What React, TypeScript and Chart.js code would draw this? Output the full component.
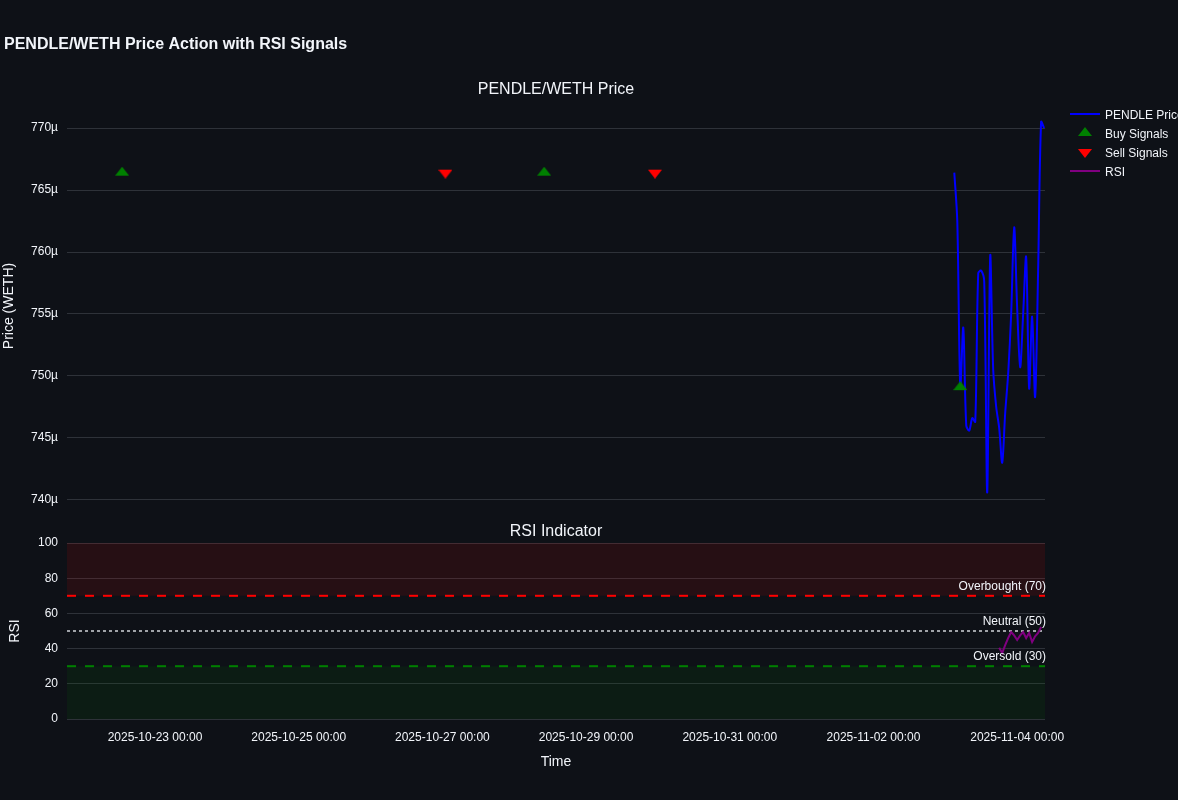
import React, { useEffect, useRef } from "react";
import { Chart, registerables } from "chart.js";

Chart.register(...registerables);

// ---------- data (price values in µWETH) ----------
const PRICE_TIMES = [
  "2025-11-03 03:00", "2025-11-03 04:00", "2025-11-03 05:00", "2025-11-03 06:00",
  "2025-11-03 07:00", "2025-11-03 08:00", "2025-11-03 09:00", "2025-11-03 10:00",
  "2025-11-03 11:00", "2025-11-03 12:00", "2025-11-03 13:00", "2025-11-03 14:00",
  "2025-11-03 15:00", "2025-11-03 16:00", "2025-11-03 17:00", "2025-11-03 18:00",
  "2025-11-03 19:00", "2025-11-03 20:00", "2025-11-03 21:00", "2025-11-03 22:00",
  "2025-11-03 23:00", "2025-11-04 00:00", "2025-11-04 01:00", "2025-11-04 02:00",
  "2025-11-04 03:00", "2025-11-04 04:00", "2025-11-04 05:00", "2025-11-04 06:00",
  "2025-11-04 07:00", "2025-11-04 08:00", "2025-11-04 09:00",
];
const PRICE_VALUES = [
  766.4, 762.5, 749.1, 753.9,
  746.0, 745.6, 746.6, 746.3,
  758.3, 758.5, 757.6, 740.6,
  759.7, 750.5, 747.5, 745.8,
  743.0, 747.0, 750.2, 755.0,
  762.0, 755.5, 750.7, 755.0,
  759.6, 749.0, 754.8, 748.3,
  758.5, 770.5, 770.0,
];

const RSI_TIMES = [
  "2025-11-03 18:00", "2025-11-03 19:00", "2025-11-03 20:00", "2025-11-03 21:00",
  "2025-11-03 22:00", "2025-11-03 23:00", "2025-11-04 00:00", "2025-11-04 01:00",
  "2025-11-04 02:00", "2025-11-04 03:00", "2025-11-04 04:00", "2025-11-04 05:00",
  "2025-11-04 06:00", "2025-11-04 07:00", "2025-11-04 08:00",
];
const RSI_VALUES = [
  40.5, 37.5, 42.0, 46.0,
  49.4, 47.5, 44.9, 47.5,
  49.4, 46.0, 48.9, 43.8,
  47.0, 48.9, 52.3,
];

const BUY_TIMES = ["2025-10-22 13:00", "2025-10-28 10:00", "2025-11-03 05:00"];
const BUY_VALUES = [766.4, 766.4, 749.1];
const SELL_TIMES = ["2025-10-27 01:00", "2025-10-29 23:00"];
const SELL_VALUES = [766.4, 766.4];

const X_TICK_LABELS = [
  "2025-10-23 00:00", "2025-10-25 00:00", "2025-10-27 00:00", "2025-10-29 00:00",
  "2025-10-31 00:00", "2025-11-02 00:00", "2025-11-04 00:00",
];
const X_RANGE = ["2025-10-21 18:36", "2025-11-04 09:18"];
const PRICE_TICKS = [740, 745, 750, 755, 760, 765, 770];
const PRICE_RANGE = [739.11, 772.18];
const RSI_TICKS = [0, 20, 40, 60, 80, 100];
const RSI_RANGE = [0, 100];
const RSI_LEVELS = [70, 50, 30];
const RSI_LEVEL_LABELS = ["Overbought (70)", "Neutral (50)", "Oversold (30)"];

const LEGEND_LABELS = ["PENDLE Price", "Buy Signals", "Sell Signals", "RSI"];

// ---------- style ----------
const BG = "#0e1117";
const GRID = "#2e3239";
const TEXT = "#f2f5fa";
const TICK = "#f2f5fa";
const FONT = "'Liberation Sans', Arial, sans-serif";
const BLUE = "#0000ff";
const PURPLE = "#800080";
const GREEN = "#008000";
const RED = "#ff0000";

function toMs(s: string): number {
  const [d, t] = s.split(" ");
  const [Y, M, D] = d.split("-").map(Number);
  const [h, m] = t.split(":").map(Number);
  return Date.UTC(Y, M - 1, D, h, m);
}

function makeTriangle(color: string, up: boolean): HTMLCanvasElement {
  const c = document.createElement("canvas");
  c.width = 14;
  c.height = 12;
  const g = c.getContext("2d")!;
  g.fillStyle = color;
  g.beginPath();
  if (up) {
    g.moveTo(0, 9.1);
    g.lineTo(14, 9.1);
    g.lineTo(7, 0);
  } else {
    g.moveTo(0, 2.9);
    g.lineTo(14, 2.9);
    g.lineTo(7, 12);
  }
  g.closePath();
  g.fill();
  return c;
}

export default function App() {
  const priceRef = useRef<HTMLCanvasElement>(null);
  const rsiRef = useRef<HTMLCanvasElement>(null);

  useEffect(() => {
    const upTri = makeTriangle(GREEN, true);
    const downTri = makeTriangle(RED, false);
    const xMin = toMs(X_RANGE[0]);
    const xMax = toMs(X_RANGE[1]);
    const xTicks = X_TICK_LABELS.map(toMs);

    const pricePlugin = {
      id: "priceTexts",
      afterDraw(chart: any) {
        const ctx = chart.ctx as CanvasRenderingContext2D;
        const area = chart.chartArea;
        ctx.save();
        ctx.fillStyle = TEXT;
        ctx.textBaseline = "alphabetic";
        ctx.font = `bold 16px ${FONT}`;
        ctx.textAlign = "left";
        ctx.fillText("PENDLE/WETH Price Action with RSI Signals", 4, 49);
        ctx.font = `16px ${FONT}`;
        ctx.textAlign = "center";
        ctx.fillText("PENDLE/WETH Price", (area.left + area.right) / 2, 94);

        // legend
        const lx = 1070;
        const rows = [114, 133, 152, 171];
        ctx.lineWidth = 2;
        ctx.strokeStyle = BLUE;
        ctx.beginPath();
        ctx.moveTo(lx, rows[0]);
        ctx.lineTo(lx + 30, rows[0]);
        ctx.stroke();
        ctx.drawImage(upTri, lx + 15 - 7, rows[1] - 6);
        ctx.drawImage(downTri, lx + 15 - 7, rows[2] - 6);
        ctx.strokeStyle = PURPLE;
        ctx.beginPath();
        ctx.moveTo(lx, rows[3]);
        ctx.lineTo(lx + 30, rows[3]);
        ctx.stroke();
        ctx.font = `12px ${FONT}`;
        ctx.textAlign = "left";
        ctx.fillStyle = TEXT;
        LEGEND_LABELS.forEach((lab, i) => ctx.fillText(lab, lx + 35, rows[i] + 5));
        ctx.restore();
      },
    };

    const rsiPlugin = {
      id: "rsiTexts",
      afterDraw(chart: any) {
        const ctx = chart.ctx as CanvasRenderingContext2D;
        const area = chart.chartArea;
        const y = chart.scales.y;
        ctx.save();
        ctx.fillStyle = TEXT;
        ctx.textBaseline = "alphabetic";
        ctx.font = `16px ${FONT}`;
        ctx.textAlign = "center";
        ctx.fillText("RSI Indicator", (area.left + area.right) / 2, area.top - 7);
        ctx.font = `12px ${FONT}`;
        ctx.textAlign = "right";
        RSI_LEVELS.forEach((lv, i) => {
          ctx.fillText(RSI_LEVEL_LABELS[i], area.right + 1, y.getPixelForValue(lv) - 6);
        });
        ctx.restore();
      },
    };

    const priceChart = new Chart(priceRef.current!, {
      type: "line",
      data: {
        datasets: [
          {
            label: "Buy Signals",
            data: BUY_TIMES.map((t, i) => ({ x: toMs(t), y: BUY_VALUES[i] })),
            showLine: false,
            pointStyle: upTri as any,
            pointRadius: 7,
            order: 0,
          },
          {
            label: "Sell Signals",
            data: SELL_TIMES.map((t, i) => ({ x: toMs(t), y: SELL_VALUES[i] })),
            showLine: false,
            pointStyle: downTri as any,
            pointRadius: 7,
            order: 0,
          },
          {
            label: "PENDLE Price",
            data: PRICE_TIMES.map((t, i) => ({ x: toMs(t), y: PRICE_VALUES[i] })),
            borderColor: BLUE,
            borderWidth: 2,
            pointRadius: 0,
            tension: 0.3,
            fill: false,
            order: 1,
          },
        ],
      },
      options: {
        animation: false,
        responsive: false,
        maintainAspectRatio: false,
        events: [],
        layout: { padding: { top: 101, bottom: 289, left: 0, right: 133 } },
        plugins: {
          legend: { display: false },
          title: { display: false },
          tooltip: { enabled: false },
        },
        scales: {
          x: { type: "linear", display: false, min: xMin, max: xMax },
          y: {
            type: "linear",
            min: PRICE_RANGE[0],
            max: PRICE_RANGE[1],
            afterFit: (s: any) => {
              s.width = 67;
            },
            afterBuildTicks: (s: any) => {
              s.ticks = PRICE_TICKS.map((v) => ({ value: v }));
            },
            grid: { color: GRID, drawTicks: false, lineWidth: 1 },
            border: { display: false },
            ticks: {
              padding: 9,
              color: TICK,
              font: { family: FONT, size: 12 },
              callback: (v: any) => `${v}µ`,
            },
            title: {
              display: true,
              text: "Price (WETH)",
              color: TEXT,
              font: { family: FONT, size: 14 },
              padding: { top: 1, bottom: 0 },
            },
          },
        },
      } as any,
      plugins: [pricePlugin],
    });

    const levelColors = [RED, "#a0a3a8", GREEN];
    const levelDash = [[9, 9], [3, 3], [9, 9]];
    const levelFill: any[] = ["end", false, "start"];
    const levelBg = ["rgba(255,0,0,0.1)", "rgba(0,0,0,0)", "rgba(0,128,0,0.1)"];

    const rsiChart = new Chart(rsiRef.current!, {
      type: "line",
      data: {
        datasets: [
          {
            label: "RSI",
            data: RSI_TIMES.map((t, i) => ({ x: toMs(t), y: RSI_VALUES[i] })),
            borderColor: PURPLE,
            borderWidth: 2,
            pointRadius: 0,
            tension: 0,
            fill: false,
            order: 0,
          },
          ...RSI_LEVELS.map((lv, i) => ({
            label: RSI_LEVEL_LABELS[i],
            data: [
              { x: xMin, y: lv },
              { x: xMax, y: lv },
            ],
            borderColor: levelColors[i],
            borderDash: levelDash[i],
            borderWidth: 2,
            pointRadius: 0,
            fill: levelFill[i],
            backgroundColor: levelBg[i],
            order: 1,
          })),
        ],
      },
      options: {
        animation: false,
        responsive: false,
        maintainAspectRatio: false,
        events: [],
        layout: { padding: { top: 543, bottom: 0, left: 0, right: 133 } },
        plugins: {
          legend: { display: false },
          title: { display: false },
          tooltip: { enabled: false },
        },
        scales: {
          x: {
            type: "linear",
            min: xMin,
            max: xMax,
            afterFit: (s: any) => {
              s.height = 81;
            },
            afterBuildTicks: (s: any) => {
              s.ticks = xTicks.map((v) => ({ value: v }));
            },
            grid: { display: false, drawTicks: false },
            border: { display: false },
            ticks: {
              padding: 11,
              autoSkip: false,
              maxRotation: 0,
              color: TICK,
              font: { family: FONT, size: 12 },
              callback: (_v: any, i: number) => X_TICK_LABELS[i],
            },
            title: {
              display: true,
              text: "Time",
              color: TEXT,
              font: { family: FONT, size: 14 },
              padding: { top: 4, bottom: 29 },
            },
          },
          y: {
            type: "linear",
            min: RSI_RANGE[0],
            max: RSI_RANGE[1],
            afterFit: (s: any) => {
              s.width = 67;
            },
            afterBuildTicks: (s: any) => {
              s.ticks = RSI_TICKS.map((v) => ({ value: v }));
            },
            grid: { color: GRID, drawTicks: false, lineWidth: 1 },
            border: { display: false },
            ticks: {
              padding: 9,
              color: TICK,
              font: { family: FONT, size: 12 },
            },
            title: {
              display: true,
              text: "RSI",
              color: TEXT,
              font: { family: FONT, size: 14 },
              padding: { top: 7, bottom: 0 },
            },
          },
        },
      } as any,
      plugins: [rsiPlugin],
    });

    return () => {
      priceChart.destroy();
      rsiChart.destroy();
    };
  }, []);

  const canvasStyle: React.CSSProperties = {
    position: "absolute",
    left: 0,
    top: 0,
    width: 1178,
    height: 800,
    display: "block",
  };

  return (
    <div
      style={{
        position: "fixed",
        left: 0,
        top: 0,
        width: 1178,
        height: 800,
        background: BG,
        overflow: "hidden",
      }}
    >
      <canvas ref={priceRef} width={1178} height={800} style={canvasStyle} />
      <canvas ref={rsiRef} width={1178} height={800} style={canvasStyle} />
    </div>
  );
}
